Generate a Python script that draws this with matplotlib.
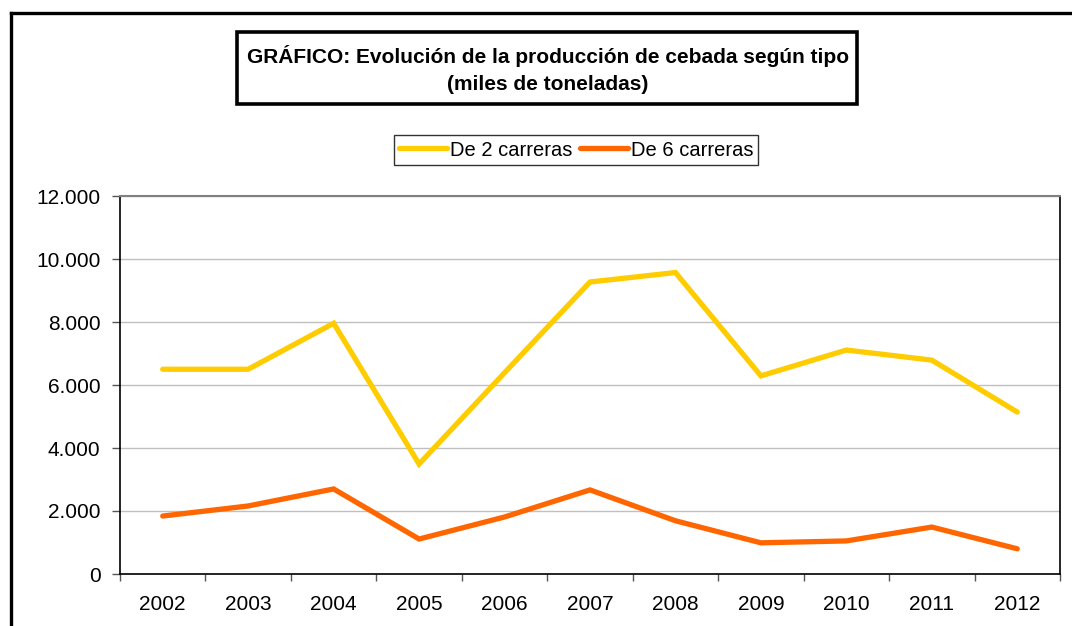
import matplotlib
matplotlib.use("Agg")
import matplotlib.pyplot as plt
from matplotlib.ticker import FuncFormatter, FixedLocator
from matplotlib.lines import Line2D
from matplotlib.patches import Rectangle

plt.rcParams['font.family'] = ['Liberation Sans', 'DejaVu Sans']

# datos (miles de toneladas)
years = ['2002', '2003', '2004', '2005', '2006', '2007', '2008', '2009', '2010', '2011', '2012']
dos_carreras = [6500, 6500, 7960, 3490, 6390, 9270, 9570, 6290, 7110, 6790, 5140]
seis_carreras = [1840, 2160, 2700, 1110, 1810, 2670, 1690, 990, 1050, 1490, 800]

W, H = 1072, 626
fig = plt.figure(figsize=(W / 100, H / 100), dpi=100)

ax = fig.add_axes([120 / W, 1 - 574 / H, 940 / W, 378 / H])
x = range(len(years))
ax.plot(x, dos_carreras, color='#FFCC00', lw=3.8, solid_capstyle='round',
        solid_joinstyle='miter', label='De 2 carreras')
ax.plot(x, seis_carreras, color='#FF6600', lw=3.8, solid_capstyle='round',
        solid_joinstyle='miter', label='De 6 carreras')

ax.set_xlim(-0.5, len(years) - 0.5)
ax.set_ylim(0, 12000)
ax.set_yticks(range(0, 12001, 2000))
ax.yaxis.set_major_formatter(FuncFormatter(lambda v, p: f'{int(v):,}'.replace(',', '.')))
ax.set_xticks([i + 0.5 for i in range(-1, len(years))])
ax.set_xticklabels([])
ax.xaxis.set_minor_locator(FixedLocator(list(x)))
ax.set_xticklabels(years, minor=True)
ax.tick_params(axis='x', which='minor', length=0, pad=15, labelsize=15)
ax.tick_params(axis='x', which='major', length=5, width=1, color='#555555')
ax.tick_params(axis='y', length=6, width=1, color='#555555', labelsize=15, pad=8)
ax.grid(axis='y', color='#c0c0c0', lw=1)
ax.set_axisbelow(True)
for s in ['left', 'bottom', 'right']:
    ax.spines[s].set_color('black')
    ax.spines[s].set_linewidth(1.2)
ax.spines['top'].set_color('#808080')
ax.spines['top'].set_linewidth(1.5)

# leyenda
handles = [Line2D([], [], color='#FFCC00', lw=3.8, solid_capstyle='round'),
           Line2D([], [], color='#FF6600', lw=3.8, solid_capstyle='round')]
leg = fig.legend(handles, ['De 2 carreras', 'De 6 carreras'], ncol=2,
                 loc='center', bbox_to_anchor=(576 / W, 1 - 150 / H),
                 frameon=True, fancybox=False, fontsize=14.5,
                 handlelength=2.4, handletextpad=0.12, columnspacing=0.4,
                 borderpad=0.25, borderaxespad=0)
leg.get_frame().set_edgecolor('black')
leg.get_frame().set_linewidth(1)

# titulo con recuadro
fig.patches.append(Rectangle((237 / W, 1 - 104 / H), 620 / W, 72 / H,
                             transform=fig.transFigure, fill=False,
                             edgecolor='black', lw=2.6))
fig.text(548 / W, 1 - 56 / H, 'GRÁFICO: Evolución de la producción de cebada según tipo',
         ha='center', va='center', fontsize=15, fontweight='bold')
fig.text(548 / W, 1 - 84 / H, '(miles de toneladas)',
         ha='center', va='center', fontsize=15, fontweight='bold')

# marco exterior
fig.add_artist(Line2D([10.5 / W, 1], [1 - 12.5 / H, 1 - 12.5 / H], color='black', lw=2.4,
                      transform=fig.transFigure))
fig.add_artist(Line2D([10.5 / W, 10.5 / W], [0, 1 - 12.5 / H], color='black', lw=2.4,
                      transform=fig.transFigure))

fig.savefig('out.png', dpi=100)
